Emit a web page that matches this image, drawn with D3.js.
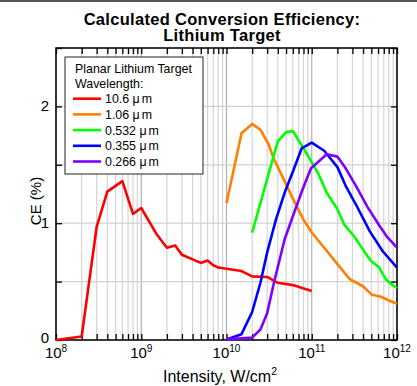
<!DOCTYPE html>
<html>
<head>
<script type="text/javascript" src="https://cdn.jsdelivr.net/npm/d3@7/dist/d3.min.js"></script>
<style>
  body { margin: 0; background: white; }
  text { font-family: Arial, "Liberation Sans", sans-serif; }
</style>
</head>
<body>
<script>

// data: [intensity W/cm2, CE %]
var red = [[1e8,0],[2e8,0.03],[3e8,0.97],[4e8,1.27],[6e8,1.36],[8e8,1.08],[1e9,1.13],
           [1.5e9,0.91],[2e9,0.79],[2.5e9,0.81],[3e9,0.73],[5e9,0.66],[6e9,0.68],[7e9,0.64],
           [8e9,0.62],[1e10,0.61],[1.5e10,0.59],[2e10,0.545],[3e10,0.54],[4e10,0.49],
           [6e10,0.47],[1e11,0.42]];
var orange = [[1e10,1.17],[1.5e10,1.77],[2e10,1.85],[2.5e10,1.8],[3.1e10,1.68],[3.6e10,1.55],
              [4.8e10,1.36],[6e10,1.21],[8e10,1.03],[1e11,0.92],[1.4e11,0.79],[2e11,0.65],
              [2.8e11,0.52],[4e11,0.46],[5e11,0.39],[6.5e11,0.37],[7.7e11,0.345],[1e12,0.31]];
var green = [[2e10,0.92],[3e10,1.38],[4e10,1.7],[5e10,1.78],[6e10,1.79],[7e10,1.71],
             [9e10,1.58],[1.2e11,1.42],[1.5e11,1.26],[2e11,1.12],[2.4e11,0.99],[3.2e11,0.88],
             [4.2e11,0.75],[5e11,0.675],[6.2e11,0.62],[7.4e11,0.52],[8.5e11,0.48],[1e12,0.445]];
var blue = [[1e10,0.005],[1.5e10,0.05],[2e10,0.24],[2.5e10,0.49],[3e10,0.75],[3.8e10,1.03],
            [4.8e10,1.26],[6e10,1.44],[7.6e10,1.64],[1e11,1.69],[1.4e11,1.62],[2e11,1.48],
            [2.5e11,1.32],[3.3e11,1.16],[4.8e11,0.93],[6.8e11,0.76],[1e12,0.62]];
var purple = [[1e10,0.005],[2e10,0.02],[2.5e10,0.09],[3e10,0.23],[3.6e10,0.49],[4.8e10,0.86],
              [6e10,1.06],[8e10,1.31],[9.8e10,1.47],[1.5e11,1.59],[2e11,1.57],[2.5e11,1.47],
              [3.3e11,1.32],[4.5e11,1.14],[6.2e11,0.98],[7.7e11,0.88],[1e12,0.79]];

var seriesLabels = ["10.6","1.06","0.532","0.355","0.266"];   // wavelengths, in \u03bcm
var seriesData = [red, orange, green, blue, purple];
var colors = ["#ff0000","#ff8000","#00ff00","#0000ff","#8000ff"];
var xExponents = [8, 9, 10, 11, 12];
var yTicks = [0, 1, 2];
var titleLines = ["Calculated Conversion Efficiency:", "Lithium Target"];
var legendTitle = ["Planar Lithium Target", "Wavelength:"];

var width = 417, height = 386,
    pLeft = 56, pRight = 397, pTop = 48, pBottom = 340;

var svg = d3.select("body").append("svg")
            .attr("width", width)
            .attr("height", height);

// thin frame line along the top of the picture
svg.append("rect").attr("x",0).attr("y",0).attr("width",width).attr("height",2).attr("fill","#555");

var x = d3.scaleLog().domain([1e8,1e12]).range([pLeft,pRight]);
var y = d3.scaleLinear().domain([0,2.5]).range([pBottom,pTop]);

// minor + major positions on x
var xAll = [];
for (var e = 8; e < 12; e++) {
  for (var m = 1; m < 10; m++) xAll.push(m * Math.pow(10,e));
}
xAll.push(1e12);
var yAll = d3.range(0, 2.51, 0.5);

// grid
svg.append("g").selectAll("line").data(xAll).enter().append("line")
   .attr("x1", function(d) { return x(d); }).attr("x2", function(d) { return x(d); })
   .attr("y1", pTop).attr("y2", pBottom)
   .attr("stroke", function(d) { return Number.isInteger(Math.log10(d)) ? "#b0b0b0" : "#d4d4d4"; })
   .attr("stroke-width", 1.2);
svg.append("g").selectAll("line").data(yAll).enter().append("line")
   .attr("x1", pLeft).attr("x2", pRight)
   .attr("y1", function(d) { return y(d); }).attr("y2", function(d) { return y(d); })
   .attr("stroke", "#d0d0d0").attr("stroke-width", 1.2);

// axes with inward ticks on all four sides
svg.append("g").attr("transform","translate(0," + pBottom + ")")
   .call(d3.axisBottom(x).tickValues(xAll).tickSize(-6).tickFormat(""))
   .call(function(g) { g.select(".domain").remove(); });
svg.append("g").attr("transform","translate(0," + pTop + ")")
   .call(d3.axisTop(x).tickValues(xAll).tickSize(-6).tickFormat(""))
   .call(function(g) { g.select(".domain").remove(); });
svg.append("g").attr("transform","translate(" + pLeft + ",0)")
   .call(d3.axisLeft(y).tickValues(yAll).tickSize(-6).tickFormat(""))
   .call(function(g) { g.select(".domain").remove(); });
svg.append("g").attr("transform","translate(" + pRight + ",0)")
   .call(d3.axisRight(y).tickValues(yAll).tickSize(-6).tickFormat(""))
   .call(function(g) { g.select(".domain").remove(); });
svg.selectAll(".tick line").attr("stroke","#000").attr("stroke-width",1.3);

svg.append("rect").attr("x",pLeft).attr("y",pTop)
   .attr("width",pRight-pLeft).attr("height",pBottom-pTop)
   .attr("fill","none").attr("stroke","#000").attr("stroke-width",1.5);

// x tick labels 10^n
var xl = svg.append("g").selectAll("text").data(xExponents).enter().append("text")
   .attr("x", function(d) { return x(Math.pow(10,d)); })
   .attr("y", pBottom + 18)
   .attr("text-anchor","middle")
   .style("font-size","15px");
xl.append("tspan").text("10");
xl.append("tspan").attr("dy",-6).style("font-size","10px").text(function(d) { return d; });

// y tick labels
svg.append("g").selectAll("text").data(yTicks).enter().append("text")
   .attr("x", pLeft - 7).attr("y", function(d) { return y(d) + (d === 0 ? 3 : 5); })
   .attr("text-anchor","end").style("font-size","15px")
   .text(function(d) { return d; });

// axis titles
var xt = svg.append("text").attr("x", 220).attr("y", 382)
   .attr("text-anchor","middle").style("font-size","16px");
xt.append("tspan").text("Intensity, W/cm");
xt.append("tspan").attr("dy",-7).style("font-size","10.5px").text("2");

svg.append("text").attr("transform","translate(41,201) rotate(-90)")
   .attr("text-anchor","middle").style("font-size","15px").text("CE (%)");

// title
svg.append("g").selectAll("text").data(titleLines).enter().append("text")
   .attr("x", 222).attr("y", function(d,i) { return 24.5 + i*16; })
   .attr("text-anchor","middle").style("font-size","16.5px").style("font-weight","bold")
   .style("letter-spacing","0.3px")
   .text(function(d) { return d; });

// lines
var line = d3.line().x(function(d) { return x(d[0]); }).y(function(d) { return y(d[1]); });
svg.append("g").selectAll("path").data(seriesData).enter().append("path")
   .attr("d", line).attr("fill","none")
   .attr("stroke", function(d,i) { return colors[i]; })
   .attr("stroke-width", 2.6).attr("stroke-linejoin","round");

// legend
var lg = svg.append("g");
lg.append("rect").attr("x",65).attr("y",57).attr("width",138).attr("height",117)
  .attr("fill","white").attr("stroke","#222").attr("stroke-width",1);
lg.selectAll("text.hd").data(legendTitle).enter().append("text").attr("class","hd")
  .attr("x",75).attr("y", function(d,i) { return 72.5 + i*15.5; })
  .style("font-size","12.4px").text(function(d) { return d; });
var items = lg.selectAll("g.it").data(seriesLabels).enter().append("g").attr("class","it")
  .attr("transform", function(d,i) { return "translate(0," + (98.7 + i*15.7) + ")"; });
items.append("line").attr("x1",73).attr("x2",101).attr("y1",0).attr("y2",0)
  .attr("stroke", function(d,i) { return colors[i]; }).attr("stroke-width",2.6);
var it = items.append("text").attr("x",105).attr("y",4.5).style("font-size","12.4px");
it.append("tspan").text(function(d) { return d + " \u03bc"; });
it.append("tspan").attr("dx",2).text("m");

</script>
</body>
</html>
